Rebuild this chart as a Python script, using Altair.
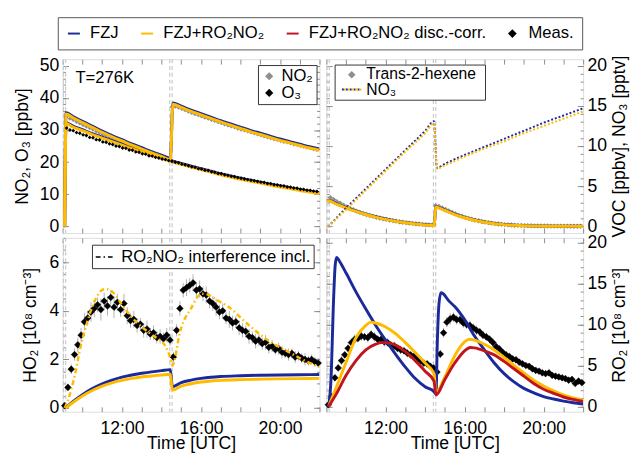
import altair as alt
import pandas as pd

FONT = "Liberation Sans"
BLUE = "#1b2a9a"
ORANGE = "#ffbb00"
RED = "#c0151c"
GRAY = "#8e8e8e"
FRAME = "#8c8c8c"
TICKC = "#8c8c8c"
DASHC = "#c9c9c9"
LINEPATH = "M-1,0L1,0"
DIAPATH = "M0,-0.5L0.5,0L0,0.5L-0.5,0Z"

XDOM = [9, 22]
W, H = 263, 178

series_names = ["FZJ", "FZJ+RO₂NO₂", "FZJ+RO₂NO₂ disc.-corr.", "Meas."]
series_colors = [BLUE, ORANGE, RED, "black"]
series_shapes = [LINEPATH, LINEPATH, LINEPATH, DIAPATH]

inj_times = [9.04, 9.15, 14.42, 14.54]
hour_ticks = list(range(9, 23))

# ---------------- top-left: NO2 / O3 ----------------
no2_t = [9.1, 9.17, 9.5, 10, 10.5, 11, 11.5, 12, 12.5, 13, 13.5, 14, 14.45, 14.58, 15, 15.5, 16, 16.5, 17,
         17.5, 18, 18.5, 19, 19.5, 20, 20.5, 21, 21.5, 22]
no2_rn = [0, 35.0, 33.9, 32.3, 30.8, 29.3, 27.9, 26.6, 25.3, 24.1, 22.9, 21.8, 20.8, 38.0, 37.0, 35.8, 34.7,
          33.6, 32.5, 31.5, 30.5, 29.5, 28.6, 27.7, 26.8, 26.0, 25.2, 24.4, 23.7]
no2_fzj = [0, 35.4, 34.3, 32.7, 31.2, 29.7, 28.3, 27.0, 25.7, 24.5, 23.3, 22.2, 21.2, 38.4, 37.4, 36.2, 35.1,
           34.0, 32.9, 31.9, 30.9, 29.9, 29.0, 28.1, 27.2, 26.4, 25.6, 24.8, 24.1]
o3_t = [9.1, 9.17, 9.5, 10, 10.5, 11, 11.5, 12, 12.5, 13, 13.5, 14, 14.5, 15, 15.5, 16, 16.5, 17, 17.5, 18,
        18.5, 19, 19.5, 20, 20.5, 21, 21.5, 22]
o3_rn = [0, 32.0, 31.0, 29.8, 28.6, 27.5, 26.4, 25.3, 24.2, 23.2, 22.2, 21.2, 20.2, 19.3, 18.5, 17.7, 16.9,
         16.1, 15.4, 14.7, 14.1, 13.5, 12.9, 12.3, 11.8, 11.2, 10.7, 10.2]
o3_fzj = [0, 32.3, 31.3, 30.1, 28.9, 27.8, 26.7, 25.6, 24.5, 23.5, 22.5, 21.5, 20.5, 19.6, 18.8, 18.0, 17.2,
          16.4, 15.7, 15.0, 14.4, 13.8, 13.2, 12.6, 12.1, 11.5, 11.0, 10.5]

t_meas_a = [round(9.2 + i / 6, 3) for i in range(77)]
no2_meas = [34.3, 33.6, 33.2, 32.6, 32.1, 31.6, 31.1, 30.6, 30.2, 29.6, 29.2, 28.7, 28.3, 27.8, 27.4, 26.9,
            26.6, 26.1, 25.7, 25.3, 24.9, 24.5, 24.1, 23.7, 23.4, 23.0, 22.6, 22.3, 21.9, 21.6, 21.3, 20.9,
            37.2, 37.3, 37.0, 36.6, 36.2, 35.8, 35.4, 35.0, 34.7, 34.3, 33.9, 33.6, 33.2, 32.9, 32.5, 32.2,
            31.8, 31.5, 31.2, 30.9, 30.5, 30.2, 29.9, 29.6, 29.3, 29.0, 28.7, 28.4, 28.1, 27.8, 27.5, 27.2,
            27.0, 26.7, 26.4, 26.2, 25.9, 25.6, 25.4, 25.1, 24.9, 24.6, 24.4, 24.1, 23.9]
o3_meas = [30.6, 30.0, 29.8, 29.2, 29.0, 28.5, 28.3, 27.7, 27.6, 27.0, 26.9, 26.3, 26.2, 25.7, 25.5, 25.0,
           24.9, 24.4, 24.3, 23.8, 23.7, 23.2, 23.1, 22.6, 22.5, 22.0, 21.9, 21.5, 21.3, 21.0, 20.8, 20.5,
           20.3, 20.0, 19.8, 19.4, 19.2, 18.9, 18.6, 18.4, 18.0, 17.9, 17.5, 17.4, 17.0, 16.9, 16.5, 16.4,
           16.1, 15.9, 15.6, 15.5, 15.2, 15.0, 14.8, 14.6, 14.4, 14.2, 14.0, 13.8, 13.7, 13.4, 13.3, 13.0,
           12.9, 12.7, 12.6, 12.3, 12.2, 12.0, 11.9, 11.6, 11.5, 11.3, 11.2, 11.0, 10.9]
tl_species = ["NO₂", "O₃"]
tl_note = ["T=276K"]

# ---------------- top-right: VOC / NO3 ----------------
voc_t = [9.02, 9.1, 9.5, 10, 10.5, 11, 11.5, 12, 12.5, 13, 13.5, 14, 14.45, 14.55, 15, 15.5, 16, 16.5, 17,
         17.5, 18, 18.5, 19, 20, 21, 22]
voc_rn = [3.2, 3.2, 2.8, 2.3, 1.88, 1.5, 1.18, 0.9, 0.66, 0.47, 0.32, 0.2, 0.12, 2.4, 2.0, 1.5, 1.1, 0.78,
          0.54, 0.36, 0.24, 0.16, 0.1, 0.05, 0.03, 0.02]
voc_fzj = [3.25, 3.25, 2.85, 2.35, 1.92, 1.54, 1.22, 0.94, 0.7, 0.5, 0.35, 0.23, 0.15, 2.45, 2.05, 1.55, 1.14,
           0.82, 0.57, 0.39, 0.27, 0.18, 0.12, 0.06, 0.04, 0.03]
voc_meas = [3.6, 3.35, 3.1, 2.9, 2.65, 2.45, 2.25, 2.1, 1.92, 1.78, 1.62, 1.5, 1.38, 1.27, 1.16, 1.07, 0.97,
            0.9, 0.81, 0.74, 0.67, 0.6, 0.54, 0.49, 0.43, 0.39, 0.35, 0.31, 0.28, 0.25, 0.22, 0.2,
            2.6, 2.5, 2.32, 2.12, 1.93, 1.75, 1.58, 1.42, 1.28, 1.14, 1.02, 0.91, 0.81, 0.72, 0.63, 0.56,
            0.49, 0.43, 0.37, 0.32, 0.28, 0.25, 0.22, 0.19, 0.17, 0.15, 0.13, 0.12, 0.11, 0.1, 0.09, 0.08,
            0.08, 0.07, 0.07, 0.06, 0.06, 0.05, 0.05, 0.05, 0.05, 0.04, 0.04, 0.04, 0.04]
no3_t = [9.1, 10, 11, 12, 13, 14, 14.45, 14.6, 15, 16, 17, 18, 19, 20, 21, 22]
no3_fzj = [0.0, 2.3, 4.7, 7.1, 9.5, 11.9, 13.1, 7.3, 7.8, 8.9, 9.9, 10.9, 11.9, 12.9, 13.8, 14.7]
no3_rn = [0.0, 2.1, 4.5, 6.9, 9.3, 11.6, 12.8, 7.2, 7.6, 8.7, 9.7, 10.6, 11.6, 12.5, 13.4, 14.3]
tr_species = ["Trans-2-hexene", "NO₃"]

# ---------------- bottom-left: HO2 ----------------
t_meas_b = [round(9.1 + i / 6, 3) for i in range(78)]
ho2_meas = [0.1, 0.85, 1.6, 2.2, 2.6, 3.0, 3.55, 3.7, 3.95, 4.1, 4.25, 4.05, 4.4, 4.2, 4.55, 4.15, 4.35, 4.05,
            4.3, 3.8, 3.6, 3.65, 3.4, 3.45, 3.2, 3.25, 3.05, 3.1, 2.9, 2.95, 2.85, 3.0, 2.8, 2.1, 3.2, 4.1,
            4.85, 4.95, 5.05, 5.15, 4.85, 4.9, 4.7, 4.65, 4.4, 4.3, 4.15, 3.95, 4.0, 3.7, 3.65, 3.5, 3.55,
            3.3, 3.2, 3.15, 2.95, 2.9, 2.75, 2.8, 2.65, 2.7, 2.5, 2.55, 2.4, 2.45, 2.3, 2.25, 2.2, 2.25, 2.1,
            2.15, 2.05, 2.0, 1.95, 2.0, 1.9, 1.85]
ho2_err = [0.1, 0.15, 0.2, 0.25, 0.3, 0.3, 0.35, 0.3, 0.4, 0.35, 0.3, 0.45, 0.35, 0.4, 0.3, 0.45, 0.35, 0.3,
           0.4, 0.35, 0.3, 0.35, 0.3, 0.25, 0.3, 0.35, 0.25, 0.3, 0.25, 0.3, 0.25, 0.3, 0.25, 0.2, 0.25, 0.3,
           0.3, 0.35, 0.3, 0.35, 0.3, 0.35, 0.3, 0.35, 0.3, 0.3, 0.35, 0.3, 0.3, 0.25, 0.35, 0.3, 0.25, 0.3,
           0.3, 0.25, 0.3, 0.25, 0.3, 0.25, 0.25, 0.3, 0.25, 0.25, 0.2, 0.25, 0.25, 0.2, 0.25, 0.2, 0.25, 0.2,
           0.2, 0.25, 0.2, 0.2, 0.2, 0.2]
ho2_t = [9.15, 9.5, 10, 10.5, 11, 11.5, 12, 12.5, 13, 13.5, 14, 14.45, 14.55, 15, 15.5, 16, 16.5, 17, 18, 19,
         20, 21, 22]
ho2_fzj = [0, 0.25, 0.55, 0.8, 1.0, 1.15, 1.27, 1.36, 1.43, 1.49, 1.54, 1.58, 0.88, 1.05, 1.15, 1.22, 1.27,
           1.3, 1.33, 1.35, 1.36, 1.37, 1.38]
ho2_rn = [0, 0.22, 0.5, 0.72, 0.9, 1.04, 1.14, 1.22, 1.28, 1.32, 1.36, 1.39, 0.74, 0.9, 1.0, 1.07, 1.11, 1.14,
          1.17, 1.19, 1.2, 1.21, 1.22]
ho2i_t = [9.1, 9.3, 9.6, 9.9, 10.25, 10.6, 11.1, 11.3, 11.6, 12.07, 12.7, 13.5, 14.2, 14.45, 14.55, 14.7, 14.9,
          15.2, 15.5, 15.8, 16.05, 16.3, 16.8, 17.5, 18.3, 19.2, 20.5, 21.6, 22]
ho2i_rn = [0, 0.4, 1.3, 2.5, 3.56, 4.37, 4.89, 4.88, 4.71, 4.17, 3.56, 3.02, 2.55, 2.05, 1.75, 2.1, 3.0, 3.7,
           4.1, 4.55, 4.7, 4.68, 4.45, 4.1, 3.5, 2.9, 2.28, 1.82, 1.7]
bl_label = ["RO₂NO₂ interference incl."]

# ---------------- bottom-right: RO2 ----------------
ro2_meas = [0.2, 1.2, 3.5, 4.7, 5.6, 6.3, 7.1, 7.8, 8.2, 8.3, 8.6, 8.5, 8.4, 8.8, 8.5, 8.2, 8.2, 7.9, 7.8, 7.5,
            7.4, 7.1, 6.9, 6.8, 6.5, 6.3, 6.1, 5.8, 5.6, 5.3, 5.2, 4.9, 4.7, 4.2, 6.4, 9.0, 10.3, 10.7, 10.9,
            10.6, 10.6, 10.2, 10.0, 9.9, 9.6, 9.3, 9.1, 8.7, 8.5, 8.2, 7.8, 7.3, 7.0, 6.6, 6.3, 6.1, 5.8, 5.7,
            5.4, 5.2, 5.0, 4.9, 4.6, 4.4, 4.3, 4.1, 4.0, 4.1, 3.8, 3.7, 3.6, 3.5, 3.4, 3.2, 3.3, 2.8, 3.1, 2.9]
ro2_err = [0.2, 0.3, 0.4, 0.4, 0.5, 0.4, 0.5, 0.5, 0.6, 0.5, 0.6, 0.5, 0.6, 0.5, 0.6, 0.5, 0.5, 0.6, 0.5, 0.5,
           0.5, 0.4, 0.5, 0.4, 0.5, 0.4, 0.4, 0.5, 0.4, 0.4, 0.4, 0.4, 0.4, 0.3, 0.5, 0.6, 0.6, 0.7, 0.6, 0.6,
           0.6, 0.6, 0.5, 0.6, 0.5, 0.6, 0.5, 0.5, 0.5, 0.5, 0.5, 0.4, 0.5, 0.4, 0.4, 0.4, 0.4, 0.4, 0.4, 0.4,
           0.3, 0.4, 0.3, 0.4, 0.3, 0.3, 0.3, 0.3, 0.3, 0.3, 0.3, 0.3, 0.3, 0.3, 0.3, 0.3, 0.3, 0.3]
ro2_fzj_t = [9.12, 9.25, 9.35, 9.45, 9.52, 9.6, 9.75, 10, 10.5, 11, 11.5, 12, 12.5, 13, 13.5, 14, 14.45, 14.55,
             14.62, 14.7, 14.8, 14.9, 15.2, 15.5, 16, 16.5, 17, 17.5, 18, 18.5, 19, 19.5, 20, 20.5, 21, 21.5, 22]
ro2_fzj = [0, 4.0, 12.0, 17.3, 18.2, 18.0, 17.4, 16.3, 14.0, 11.9, 9.9, 8.1, 6.4, 4.8, 3.4, 2.4, 1.8, 1.5, 8.0,
           12.5, 13.9, 13.8, 12.9, 12.2, 10.6, 8.6, 6.9, 5.3, 4.0, 3.0, 2.2, 1.65, 1.2, 0.9, 0.65, 0.45, 0.3]
ro2_rn_t = [9.12, 9.5, 10, 10.5, 11, 11.25, 11.5, 12, 12.5, 13, 13.5, 14, 14.45, 14.55, 15, 15.5, 16, 16.25,
            16.5, 17, 17.5, 18, 18.5, 19, 19.5, 20, 20.5, 21, 21.5, 22]
ro2_rn = [0, 2.3, 5.4, 8.4, 9.9, 10.3, 10.2, 9.7, 8.9, 7.8, 6.6, 5.3, 4.0, 1.7, 3.6, 6.2, 7.9, 8.2, 8.1, 7.6,
          6.9, 6.0, 5.0, 4.1, 3.2, 2.5, 1.9, 1.4, 1.05, 0.8]
ro2_dc_t = [9.12, 9.5, 10, 10.5, 11, 11.5, 11.8, 12, 12.5, 13, 13.5, 14, 14.45, 14.55, 15, 15.5, 16, 16.3,
            16.5, 17, 17.5, 18, 18.5, 19, 19.5, 20, 20.5, 21, 21.5, 22]
ro2_dc = [0, 1.5, 3.8, 5.6, 6.9, 7.6, 7.8, 7.8, 7.5, 6.7, 5.6, 4.3, 3.1, 1.4, 3.3, 5.3, 6.8, 7.2, 7.15, 6.8,
          6.3, 5.5, 4.6, 3.7, 2.8, 2.1, 1.6, 1.15, 0.85, 0.6]


# ---------------- helpers ----------------
def mdf(t, v, series, grp):
    return pd.DataFrame({"t": t, "v": v, "series": series, "grp": grp})


XS = alt.Scale(domain=XDOM, nice=False, zero=False)

main_legend = alt.Legend(
    title=None, orient="none", legendX=-5, legendY=-43, direction="horizontal",
    strokeColor="#555555", fillColor="white", padding=8, labelFont=FONT, labelFontSize=17, labelLimit=400,
    labelColor="black", symbolSize=150, symbolStrokeWidth=2, columnPadding=18, labelOffset=8)

COLOR = alt.Color("series:N", scale=alt.Scale(domain=series_names, range=series_colors), legend=main_legend)
STROKE = alt.Stroke("series:N", scale=alt.Scale(domain=series_names, range=series_colors), legend=main_legend)
SHAPE = alt.Shape("series:N", scale=alt.Scale(domain=series_names, range=series_shapes), legend=main_legend)


def ax(orient, values, size, **kw):
    base = dict(orient=orient, values=values, tickSize=size, offset=-size, domain=False, grid=False,
                ticks=True, tickColor=TICKC, tickWidth=1, labels=False, title=None)
    base.update(kw)
    return alt.Axis(**base)


def axis_layers(df, ydom, ymajor, yminor, side, ytitle, bottom, tpad):
    ys = alt.Scale(domain=ydom, nice=False, zero=False)
    other = "right" if side == "left" else "left"
    ykw = dict(labels=True, labelFont=FONT, labelFontSize=18, labelColor="black", labelPadding=4,
               title=ytitle, titleFont=FONT, titleFontSize=18, titleFontWeight="normal", titleColor="black",
               titlePadding=tpad)
    if side == "right":
        ykw["titleAngle"] = 270
        ykw["titleBaseline"] = "top"
    xkw = {}
    if bottom:
        xkw = dict(labels=True, labelFont=FONT, labelFontSize=18, labelColor="black", labelPadding=8,
                   labelExpr="datum.value % 4 === 0 ? datum.value + ':00' : ''",
                   title="Time [UTC]", titleFont=FONT, titleFontSize=18, titleFontWeight="normal",
                   titleColor="black", titlePadding=-2)
    base = alt.Chart(df).mark_point(opacity=0)
    l1 = base.encode(x=alt.X("t:Q", scale=XS, axis=ax("bottom", hour_ticks, 5, **xkw)),
                     y=alt.Y("v:Q", scale=ys, axis=ax(side, ymajor, 6, **ykw)))
    l2 = base.encode(x=alt.X("t:Q", scale=XS, axis=ax("top", hour_ticks, 5)),
                     y=alt.Y("v:Q", scale=ys, axis=ax(other, ymajor, 6)))
    l3 = base.encode(x=alt.X("t:Q", scale=XS, axis=None),
                     y=alt.Y("v:Q", scale=ys, axis=ax("left", yminor, 3)))
    l4 = base.encode(x=alt.X("t:Q", scale=XS, axis=None),
                     y=alt.Y("v:Q", scale=ys, axis=ax("right", yminor, 3)))
    return [l1, l2, l3, l4]


def inj_layer():
    return alt.Chart(pd.DataFrame({"t": inj_times})).mark_rule(
        color=DASHC, strokeDash=[4, 3], strokeWidth=1.2).encode(x=alt.X("t:Q", scale=XS, axis=None))


def line_layer(df, ydom, width, dash=None):
    kw = dict(strokeWidth=width, interpolate="monotone", clip=True)
    if dash is not None:
        kw["strokeDash"] = dash
    return alt.Chart(df).mark_line(**kw).encode(
        x=alt.X("t:Q", scale=XS, axis=None),
        y=alt.Y("v:Q", scale=alt.Scale(domain=ydom, nice=False, zero=False), axis=None),
        color=COLOR, detail="grp:N")


def panel(layers):
    return alt.layer(*layers).properties(width=W, height=H).resolve_axis(x="independent", y="independent")


def pts(df, yscale, fill, size):
    return alt.Chart(df).mark_point(shape="diamond", filled=True, size=size, opacity=1).encode(
        x=alt.X("t:Q", scale=XS, axis=None), y=alt.Y("v:Q", scale=yscale, axis=None), fill=fill)


# ---------------- top-left ----------------
TL_Y = [-2, 52]
TLY = alt.Scale(domain=TL_Y, nice=False, zero=False)
tl_lines_b = pd.concat([mdf(no2_t, no2_fzj, "FZJ", "no2"), mdf(o3_t, o3_fzj, "FZJ", "o3")])
tl_lines_o = pd.concat([mdf(no2_t, no2_rn, "FZJ+RO₂NO₂", "no2"), mdf(o3_t, o3_rn, "FZJ+RO₂NO₂", "o3")])
tl_no2 = pd.DataFrame({"t": t_meas_a, "v": no2_meas, "sp": tl_species[0]})
tl_o3 = pd.DataFrame({"t": t_meas_a, "v": o3_meas, "sp": tl_species[1]})
tl_legend = alt.Legend(title=None, orient="none", legendX=200, legendY=6, strokeColor="#333333",
                       fillColor="white", padding=3, rowPadding=-2, labelFont=FONT, labelFontSize=17,
                       labelColor="black", symbolType="diamond", symbolSize=70, labelOffset=4)
FILL_TL = alt.Fill("sp:N", scale=alt.Scale(domain=tl_species, range=[GRAY, "black"]), legend=tl_legend)

tl_note_layer = alt.Chart(pd.DataFrame({"txt": tl_note})).mark_text(
    align="left", baseline="alphabetic", font=FONT, fontSize=17, color="black").encode(
    x=alt.value(13), y=alt.value(24), text="txt:N")

TL = panel([inj_layer(), pts(tl_no2, TLY, FILL_TL, 22), line_layer(tl_lines_b, TL_Y, 3),
            line_layer(tl_lines_o, TL_Y, 3), pts(tl_o3, TLY, FILL_TL, 16), tl_note_layer]
           + axis_layers(tl_lines_o, TL_Y, [0, 10, 20, 30, 40, 50], list(range(0, 51, 2)), "left",
                         "NO₂, O₃  [ppbv]", False, 8))

# ---------------- top-right ----------------
TR_Y = [-0.8, 20.8]
TRY = alt.Scale(domain=TR_Y, nice=False, zero=False)
tr_voc = pd.DataFrame({"t": t_meas_a, "v": voc_meas})
tr_leg = pd.DataFrame({"lab": tr_species})
tr_box = alt.Chart(tr_leg.iloc[[0]]).mark_rect(fill="white", stroke="#333333", strokeWidth=1).encode(
    x=alt.value(9), x2=alt.value(163), y=alt.value(6), y2=alt.value(42))
tr_dia = alt.Chart(tr_leg.iloc[[0]]).mark_point(shape="diamond", filled=True, color=GRAY, size=60,
                                                opacity=1).encode(x=alt.value(26), y=alt.value(16))
tr_dot1 = alt.Chart(tr_leg.iloc[[1]]).mark_rule(color=BLUE, strokeDash=[2, 2], strokeWidth=2).encode(
    x=alt.value(16), x2=alt.value(36), y=alt.value(31))
tr_dot2 = alt.Chart(tr_leg.iloc[[1]]).mark_rule(color=ORANGE, strokeDash=[2, 2], strokeDashOffset=2,
                                               strokeWidth=2).encode(
    x=alt.value(16), x2=alt.value(36), y=alt.value(31))
tr_txt1 = alt.Chart(tr_leg.iloc[[0]]).mark_text(align="left", baseline="middle", font=FONT, fontSize=16,
                                                color="black").encode(
    x=alt.value(41), y=alt.value(15), text="lab:N")
tr_txt2 = alt.Chart(tr_leg.iloc[[1]]).mark_text(align="left", baseline="middle", font=FONT, fontSize=16,
                                                color="black").encode(
    x=alt.value(41), y=alt.value(32), text="lab:N")

TR = panel([inj_layer(),
            alt.Chart(tr_voc).mark_point(shape="diamond", filled=True, size=30, color=GRAY, opacity=1).encode(
                x=alt.X("t:Q", scale=XS, axis=None), y=alt.Y("v:Q", scale=TRY, axis=None)),
            line_layer(mdf(voc_t, voc_fzj, "FZJ", "voc"), TR_Y, 3),
            line_layer(mdf(voc_t, voc_rn, "FZJ+RO₂NO₂", "voc"), TR_Y, 3),
            line_layer(mdf(no3_t, no3_fzj, "FZJ", "no3"), TR_Y, 2, [2, 2]),
            line_layer(mdf(no3_t, no3_rn, "FZJ+RO₂NO₂", "no3"), TR_Y, 2, [2, 2]),
            tr_box, tr_dia, tr_dot1, tr_dot2, tr_txt1, tr_txt2]
           + axis_layers(mdf(voc_t, voc_rn, "FZJ", "voc"), TR_Y, [0, 5, 10, 15, 20], list(range(0, 21)),
                         "right", "VOC [ppbv], NO₃ [pptv]", False, 4))


# ---------------- bottom panels ----------------
def meas_layers(vals, errs, yscale, size):
    df = pd.DataFrame({"t": t_meas_b, "v": vals, "e": errs, "series": "Meas."})
    base = alt.Chart(df).transform_calculate(lo="datum.v - datum.e", hi="datum.v + datum.e")
    bars = base.mark_rule(color="#b0b0b0", strokeWidth=1).encode(
        x=alt.X("t:Q", scale=XS, axis=None), y=alt.Y("lo:Q", scale=yscale, axis=None), y2="hi:Q")
    points = base.mark_point(filled=True, size=size, opacity=1, strokeWidth=0.5).encode(
        x=alt.X("t:Q", scale=XS, axis=None), y=alt.Y("v:Q", scale=yscale, axis=None),
        color=COLOR, stroke=STROKE, shape=SHAPE)
    return [bars, points]


BL_Y = [-0.15, 7.0]
BLY = alt.Scale(domain=BL_Y, nice=False, zero=False)
bl_legend = alt.Legend(title=None, orient="none", legendX=30, legendY=7, strokeColor="#333333",
                       fillColor="white", padding=3, labelFont=FONT, labelFontSize=17, labelColor="black",
                       labelLimit=400, symbolType="stroke", symbolStrokeColor="black", symbolStrokeWidth=1.5,
                       symbolSize=300, labelOffset=8)
ho2i_df = mdf(ho2i_t, ho2i_rn, "FZJ+RO₂NO₂", "ho2i").assign(lab=bl_label[0])
dashdot = alt.Chart(ho2i_df).mark_line(strokeWidth=2.5, interpolate="monotone").encode(
    x=alt.X("t:Q", scale=XS, axis=None), y=alt.Y("v:Q", scale=BLY, axis=None), color=COLOR,
    strokeDash=alt.StrokeDash("lab:N", scale=alt.Scale(domain=bl_label, range=[[5, 3, 1.5, 3]]),
                              legend=bl_legend))
BL = panel([inj_layer()] + meas_layers(ho2_meas, ho2_err, BLY, 190) +
           [dashdot, line_layer(mdf(ho2_t, ho2_fzj, "FZJ", "ho2"), BL_Y, 3),
            line_layer(mdf(ho2_t, ho2_rn, "FZJ+RO₂NO₂", "ho2"), BL_Y, 3)]
           + axis_layers(mdf(ho2_t, ho2_rn, "FZJ", "ho2"), BL_Y, [0, 2, 4, 6],
                         [x / 2 for x in range(0, 15)], "left", "HO₂  [10⁸ cm⁻³]", True, 10))

BR_Y = [-0.65, 20.6]
BRY = alt.Scale(domain=BR_Y, nice=False, zero=False)
BR = panel([inj_layer()] + meas_layers(ro2_meas, ro2_err, BRY, 190) +
           [line_layer(mdf(ro2_fzj_t, ro2_fzj, "FZJ", "ro2"), BR_Y, 3),
            line_layer(mdf(ro2_rn_t, ro2_rn, "FZJ+RO₂NO₂", "ro2"), BR_Y, 3),
            line_layer(mdf(ro2_dc_t, ro2_dc, "FZJ+RO₂NO₂ disc.-corr.", "ro2"), BR_Y, 3)]
           + axis_layers(mdf(ro2_rn_t, ro2_rn, "FZJ", "ro2"), BR_Y, [0, 5, 10, 15, 20], list(range(0, 21)),
                         "right", "RO₂ [10⁸ cm⁻³]", True, 4))

chart = alt.concat(TL, TR, BL, BR, columns=2, spacing={"row": 5, "column": 7}, bounds="flush").resolve_scale(
    fill="independent", strokeDash="independent").properties(
    padding={"left": 5, "top": 3, "right": 2, "bottom": 0}).configure_view(
    stroke=FRAME, strokeWidth=1.3).configure(font=FONT)

chart.save("out.html", embed_options={"renderer": "svg", "actions": False})
